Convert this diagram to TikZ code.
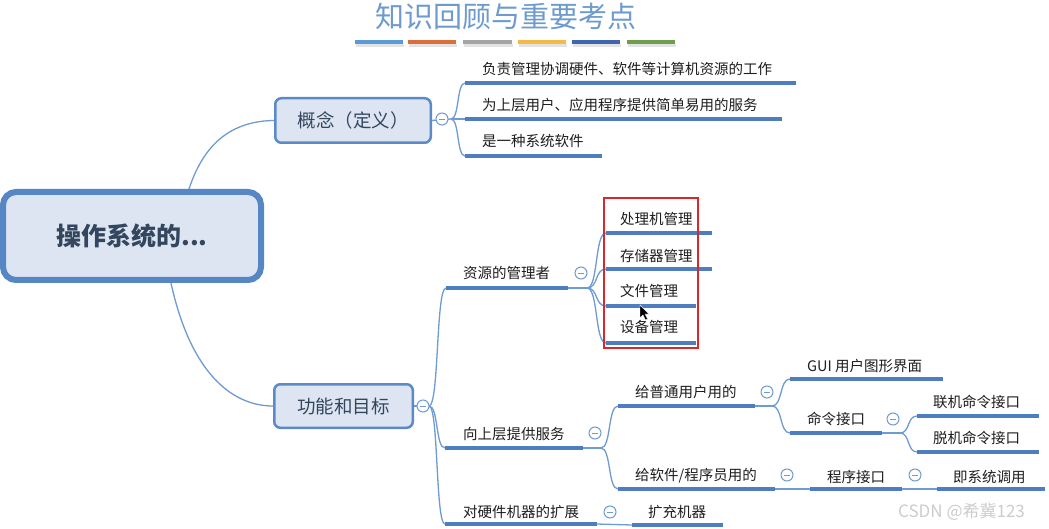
\documentclass[tikz,border=0pt]{standalone}
\usepackage{fontspec}
\setmainfont{Noto Sans CJK SC}
\usetikzlibrary{calc}
\definecolor{connC}{HTML}{6E9BD3}
\definecolor{ulC}{HTML}{4F7EC0}
\definecolor{boxFill}{HTML}{DCE5F1}
\definecolor{boxDraw}{HTML}{5B8AC7}
\definecolor{rootDraw}{HTML}{5686C4}
\definecolor{titleC}{HTML}{6D9BCF}
\definecolor{redC}{HTML}{D9272E}
\definecolor{txtC}{HTML}{1E1E1E}
\definecolor{boxTxt}{HTML}{34465E}
\definecolor{barA}{HTML}{5B9BD5}
\definecolor{barB}{HTML}{DB6E3A}
\definecolor{barC}{HTML}{A5A5A5}
\definecolor{barD}{HTML}{F5B94A}
\definecolor{barE}{HTML}{3F66AE}
\definecolor{barF}{HTML}{6E9E4B}
\tikzset{
  conn/.style={draw=connC, line width=1.3pt},
  uline/.style={draw=ulC, line width=3.5pt},
  lt/.style={anchor=west, inner sep=0pt, text=txtC, font=\fontsize{14.5}{16}\selectfont},
  topicbox/.style={draw=boxDraw, fill=boxFill, line width=2.5pt, rounded corners=6pt,
    text=boxTxt, font=\fontsize{18.5}{20}\selectfont, inner sep=0pt},
  rootbox/.style={draw=rootDraw, fill=boxFill, line width=6pt, rounded corners=13pt,
    text=boxTxt, font=\fontsize{25}{28}\selectfont\bfseries, inner sep=0pt},
  fold/.style={circle, draw=connC, fill=white, line width=1pt, minimum size=12pt, inner sep=0pt,
    path picture={\draw[connC, line width=0.9pt]
      ([xshift=-2.6pt]path picture bounding box.center) -- ([xshift=2.6pt]path picture bounding box.center);}},
  bar/.style={line width=4pt},
}
\newcommand\branchto[2]{\draw[conn] (#1) .. controls ($(#1)!0.6!(#1 -| #2)$) and ($(#2)!0.6!(#2 -| #1)$) .. (#2);}
\begin{document}
\begin{tikzpicture}[x=1pt,y=-1pt]
\useasboundingbox[fill=white] (0,0) rectangle (1049,529);

% title
\node[text=titleC, font=\fontsize{29}{32}\selectfont, inner sep=0pt] (title) at (506,17) {知识回顾与重要考点};
\foreach \a/\b/\c [count=\i] in {355/403/barA,408/456/barB,463/512/barC,518/566/barD,572/620/barE,627/675/barF}{
  \draw[bar, gray!22, line width=3pt] (\a+1,46) -- (\b+1,46);
  \draw[bar, \c] (\a,42) -- (\b,42);
}

% root and main topics
\node[rootbox, minimum width=258pt, minimum height=88pt] (root) at (132,236) {操作系统的...};
\node[topicbox, minimum width=155.5pt, minimum height=44.5pt] (gn) at (353,120.5) {概念（定义）};
\node[topicbox, minimum width=138.5pt, minimum height=43.5pt] (gm) at (343.5,406) {功能和目标};

\coordinate (rt) at (189,189);
\coordinate (rb) at (171,283);
\draw[conn] (rt) .. controls (205,140) and (235,121) .. (gn.west);
\draw[conn] (rb) .. controls (190,370) and (230,406) .. (gm.west);

% concept leaves
\node[lt] (k1) at (482,69) {负责管理协调硬件、软件等计算机资源的工作};
\node[lt] (k2) at (482,105) {为上层用户、应用程序提供简单易用的服务};
\node[lt] (k3) at (482,141) {是一种系统软件};
\coordinate (k1a) at (465,83);  \coordinate (k1b) at (796,83);
\coordinate (k2a) at (465,119); \coordinate (k2b) at (782,119);
\coordinate (k3a) at (465,156); \coordinate (k3b) at (602,156);
\coordinate (kf) at (451,119);
\draw[conn] (gn.east) -- (kf);
\branchto{kf}{k1a}
\draw[conn] (kf) -- (k2a);
\branchto{kf}{k3a}
\draw[uline] (k1a) -- (k1b);
\draw[uline] (k2a) -- (k2b);
\draw[uline] (k3a) -- (k3b);
\node[fold] (o1) at (442,119) {};

% function leaves
\node[lt] (f1) at (463,273) {资源的管理者};
\node[lt] (f2) at (463,434) {向上层提供服务};
\node[lt] (f3) at (463,512) {对硬件机器的扩展};
\coordinate (f1a) at (446,288); \coordinate (f1b) at (568,288);
\coordinate (f2a) at (445,448); \coordinate (f2b) at (583,448);
\coordinate (f3a) at (445,524); \coordinate (f3b) at (597,524);
\coordinate (ff) at (429,406);
\draw[conn] (gm.east) -- (ff);
\branchto{ff}{f1a}
\branchto{ff}{f2a}
\branchto{ff}{f3a}
\draw[uline] (f1a) -- (f1b);
\draw[uline] (f2a) -- (f2b);
\draw[uline] (f3a) -- (f3b);
\node[fold] (o2) at (423,406) {};

% resource manager
\node[lt] (r1) at (620,219) {处理机管理};
\node[lt] (r2) at (620,256) {存储器管理};
\node[lt] (r3) at (620,291) {文件管理};
\node[lt] (r4) at (620,327) {设备管理};
\coordinate (r1a) at (606,233); \coordinate (r1b) at (712,233);
\coordinate (r2a) at (606,269); \coordinate (r2b) at (712,269);
\coordinate (r3a) at (606,306); \coordinate (r3b) at (696,306);
\coordinate (r4a) at (606,343); \coordinate (r4b) at (696,343);
\coordinate (rf) at (587,288);
\draw[conn] (f1b) -- (rf);
\branchto{rf}{r1a}
\branchto{rf}{r2a}
\branchto{rf}{r3a}
\branchto{rf}{r4a}
\draw[uline] (r1a) -- (r1b);
\draw[uline] (r2a) -- (r2b);
\draw[uline] (r3a) -- (r3b);
\draw[uline] (r4a) -- (r4b);
\node[fold] (o3) at (581,273) {};
\draw[redC, line width=1.8pt] (604,198) rectangle (698,348);
% mouse pointer
\filldraw[fill=black, draw=white, line width=0.4pt] (640,305) -- (640,318) -- (643,315) -- (645.5,320) -- (647.5,319) -- (645,314) -- (649,314) -- cycle;

% services
\node[lt] (s1) at (635,392) {给普通用户用的};
\node[lt] (s2) at (635,476) {给软件/程序员用的};
\coordinate (s1a) at (618,406); \coordinate (s1b) at (755,406);
\coordinate (s2a) at (618,489); \coordinate (s2b) at (775,489);
\coordinate (sf) at (601,448);
\draw[conn] (f2b) -- (sf);
\branchto{sf}{s1a}
\branchto{sf}{s2a}
\draw[uline] (s1a) -- (s1b);
\draw[uline] (s2a) -- (s2b);
\node[fold] (o4) at (595,433) {};

\node[lt] (g1) at (807,366) {GUI 用户图形界面};
\node[lt] (g2) at (807,419) {命令接口};
\coordinate (g1a) at (790,379); \coordinate (g1b) at (943,379);
\coordinate (g2a) at (790,433); \coordinate (g2b) at (882,433);
\coordinate (gf) at (772,406);
\draw[conn] (s1b) -- (gf);
\branchto{gf}{g1a}
\branchto{gf}{g2a}
\draw[uline] (g1a) -- (g1b);
\draw[uline] (g2a) -- (g2b);
\node[fold] (o5) at (767,392) {};

\node[lt] (m1) at (933,402) {联机命令接口};
\node[lt] (m2) at (933,438) {脱机命令接口};
\coordinate (m1a) at (917,416); \coordinate (m1b) at (1039,416);
\coordinate (m2a) at (917,452); \coordinate (m2b) at (1039,452);
\coordinate (mf) at (900,433);
\draw[conn] (g2b) -- (mf);
\branchto{mf}{m1a}
\branchto{mf}{m2a}
\draw[uline] (m1a) -- (m1b);
\draw[uline] (m2a) -- (m2b);
\node[fold] (o6) at (893,419) {};

\node[lt] (p1) at (827,477) {程序接口};
\node[lt] (p2) at (953,477) {即系统调用};
\coordinate (p1a) at (810,489); \coordinate (p1b) at (902,489);
\coordinate (p2a) at (937,489); \coordinate (p2b) at (1045,489);
\draw[conn] (s2b) -- (p1a);
\draw[conn] (p1b) -- (p2a);
\draw[uline] (p1a) -- (p1b);
\draw[uline] (p2a) -- (p2b);
\node[fold] (o7) at (787,475) {};
\node[fold] (o8) at (915,475) {};

% extension
\node[lt] (e1) at (648,512) {扩充机器};
\coordinate (e1a) at (632,525); \coordinate (e1b) at (723,525);
\draw[conn] (f3b) -- (e1a);
\draw[uline] (e1a) -- (e1b);
\node[fold] (o9) at (610,512) {};

% watermark
\node[anchor=west, inner sep=0pt, text=gray!40, font=\fontsize{17}{19}\selectfont] (wm) at (898,512) {CSDN @希冀123};
\end{tikzpicture}
\end{document}
